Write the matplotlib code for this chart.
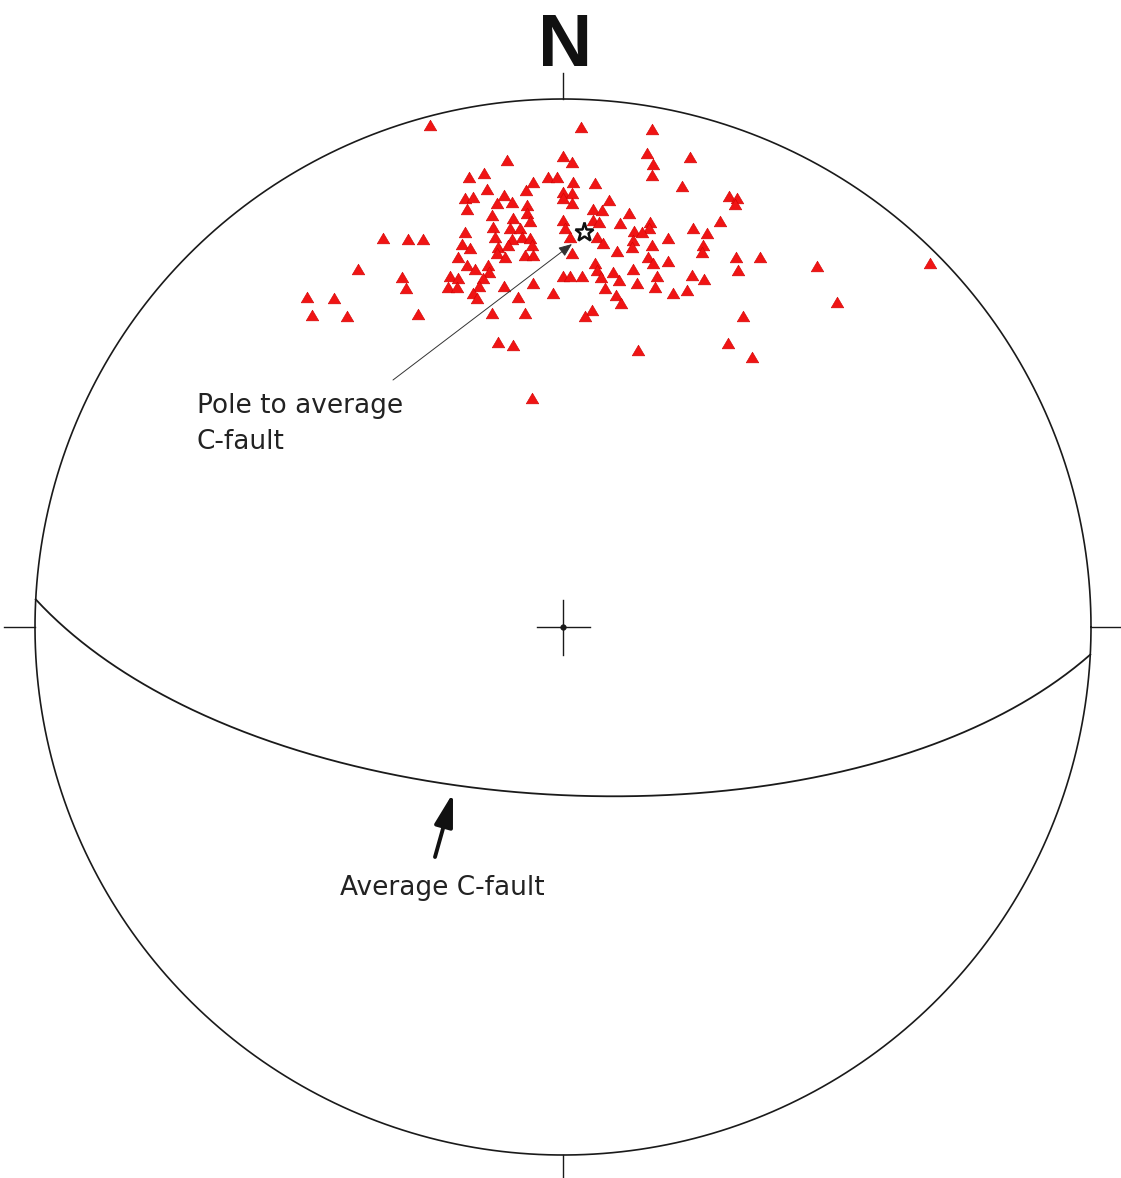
import numpy as np
import matplotlib
matplotlib.use("Agg")
import matplotlib.pyplot as plt
from matplotlib.path import Path

# ---------------- data ----------------
# Net radius (units of the projection coordinates below)
R_NET = 528.0

# Poles to C-faults, equal-area lower-hemisphere projection coordinates
# (east, north) in net units (primitive radius = R_NET)
pole_e = [-133, 18, 89, 84, 0, 9, 90, 127, -56, 89, -79, -94, -15, -6, -30, 10, 32, 119,
          -76, -37, 0, 9, 166, 174, 172, -98, -90, -59, -66, -51, 0, 9, 46, -96, -36, -36,
          30, 39, 66, -71, -50, -33, 0, 2, 30, 36, 57, 87, 86, 71, 79, 157, 130, 144,
          -70, -53, -43, -98, -68, -41, -33, -51, 7, 34, 105, -180, -155, -140, 70,
          -101, -93, -65, -55, -31, 40, 69, 89, 140, 54, -66, 9, 139, -58, -38, -30,
          -105, 85, 173, 197, -96, -88, -75, -74, -205, 90, 105, 32, 34, 254, 367, 175,
          0, 7, 19, 50, 70, 94, 129, 141, -161, -113, -105, -80, 38, 56, 74, -30, -115,
          -106, -84, -59, -157, 42, 92, 110, 124, -90, -86, -10, -45, 53, -256, -229,
          274, 58, 29, 22, -251, -216, -145, -71, -38, 180, -65, -50, 75, 165, 189, -31]
pole_n = [502, 500, 498, 474, 471, 465, 463, 470, 467, 452, 454, 450, 450, 450, 445, 445, 444, 441,
          438, 437, 435, 434, 431, 429, 423, 429, 430, 432, 424, 425, 429, 424, 427, 418, 422, 414,
          418, 417, 414, 412, 409, 406, 407, 399, 407, 405, 404, 405, 399, 396, 395, 406, 399, 394,
          400, 399, 399, 395, 390, 390, 389, 388, 390, 390, 389, 389, 388, 388, 387,
          383, 379, 380, 382, 382, 384, 380, 382, 382, 376, 374, 374, 375, 370, 372, 372,
          370, 370, 370, 370, 362, 358, 362, 355, 358, 364, 366, 364, 357, 361, 364, 357,
          351, 351, 351, 355, 358, 351, 352, 348, 350, 351, 349, 349, 350, 347, 344, 344, 340,
          340, 341, 341, 339, 339, 340, 334, 337, 334, 329, 334, 330, 332, 330, 329,
          325, 324, 317, 311, 312, 311, 313, 314, 314, 311, 285, 282, 277, 284, 270, 229]

# Average C-fault plane (dip direction / dip, degrees)
cfault_dipdir = 183.0
cfault_dip = 64.0

# Labels
north_label = "N"
pole_label_1 = "Pole to average"
pole_label_2 = "C-fault"
plane_label = "Average C-fault"


# ---------------- helpers ----------------
def equal_area(trend_deg, plunge_deg, R=R_NET):
    t = np.radians(trend_deg)
    colat = np.radians(90.0 - np.asarray(plunge_deg))
    r = R * np.sqrt(2.0) * np.sin(colat / 2.0)
    return r * np.sin(t), r * np.cos(t)


def great_circle(dipdir, dip, n=400):
    dd = np.radians(dipdir)
    dp = np.radians(dip)
    s_az = dd - np.pi / 2
    s = np.array([np.sin(s_az), np.cos(s_az), 0.0])
    d = np.array([np.sin(dd) * np.cos(dp), np.cos(dd) * np.cos(dp), np.sin(dp)])
    t = np.linspace(0, np.pi, n)
    v = np.outer(np.cos(t), s) + np.outer(np.sin(t), d)
    plunge = np.degrees(np.arcsin(np.clip(v[:, 2], -1, 1)))
    trend = np.degrees(np.arctan2(v[:, 0], v[:, 1]))
    return equal_area(trend, plunge)


# ---------------- figure ----------------
W, H = 1121, 1178
fig = plt.figure(figsize=(W / 100, H / 100), dpi=100)
ax = fig.add_axes([0, 0, 1, 1])
cx, cy = 563, 627  # center of the net in the frame
ax.set_xlim(-cx, W - cx)
ax.set_ylim(cy - H, cy)
ax.set_aspect("equal")
ax.axis("off")

lc = "#1a1a1a"
# primitive circle
th = np.linspace(0, 2 * np.pi, 720)
ax.plot(R_NET * np.cos(th), R_NET * np.sin(th), color=lc, lw=1.2)

# cardinal ticks
tick = 26
ax.plot([0, 0], [R_NET, R_NET + tick], color=lc, lw=1.0)
ax.plot([0, 0], [-R_NET, -R_NET - tick], color=lc, lw=1.0)
ax.plot([-R_NET, -R_NET - 31], [0, 0], color=lc, lw=1.0)
ax.plot([R_NET, R_NET + 31], [0, 0], color=lc, lw=1.0)

# center cross
ax.plot([-26, 27], [0, 0], color=lc, lw=1.0)
ax.plot([0, 0], [-28, 27], color=lc, lw=1.0)
ax.plot([0], [0], marker="o", ms=3.5, color=lc)

# N label
ax.text(2, R_NET + 52, north_label, ha="center", va="center",
        fontsize=54, fontweight="bold", family="Liberation Sans", color="#111111")

# average C-fault great circle
gx, gy = great_circle(cfault_dipdir, cfault_dip)
ax.plot(gx, gy, color=lc, lw=1.3)

# poles (red triangles)
tri = Path([(0, 0.85), (-1, -0.85), (1, -0.85), (0, 0.85)],
           [Path.MOVETO, Path.LINETO, Path.LINETO, Path.CLOSEPOLY])
ax.scatter(pole_e, pole_n, marker=tri, s=82, color="#f01414", edgecolors="#d00000",
           linewidths=0.4, zorder=3)

# pole to average C-fault (star)
px, py = equal_area(cfault_dipdir - 180.0, 90.0 - cfault_dip)
ax.plot([px], [py], marker="*", ms=14, mfc="white", mec="#111111", mew=1.8, zorder=5)

# annotation: pole
ax.annotate("", xy=(9, 383), xytext=(-170, 247),
            arrowprops=dict(arrowstyle="-|>,head_length=0.45,head_width=0.18",
                            mutation_scale=18, color="#333333", lw=0.7,
                            shrinkA=0, shrinkB=0), zorder=4)
fam = ["DejaVu Sans"]
ax.text(-366, 214, pole_label_1, ha="left", va="baseline", fontsize=19,
        family=fam, color="#222222")
ax.text(-366, 178, pole_label_2, ha="left", va="baseline", fontsize=19,
        family=fam, color="#222222")

# annotation: plane
ax.annotate("", xy=(-110, -166), xytext=(-128, -230),
            arrowprops=dict(arrowstyle="-|>,head_length=1.0,head_width=0.28",
                            mutation_scale=20, color="#111111", lw=2.8,
                            shrinkA=0, shrinkB=0), zorder=4)
ax.text(-223, -268, plane_label, ha="left", va="baseline", fontsize=19,
        family=fam, color="#222222")

fig.savefig("out.png", dpi=100, facecolor="white")
